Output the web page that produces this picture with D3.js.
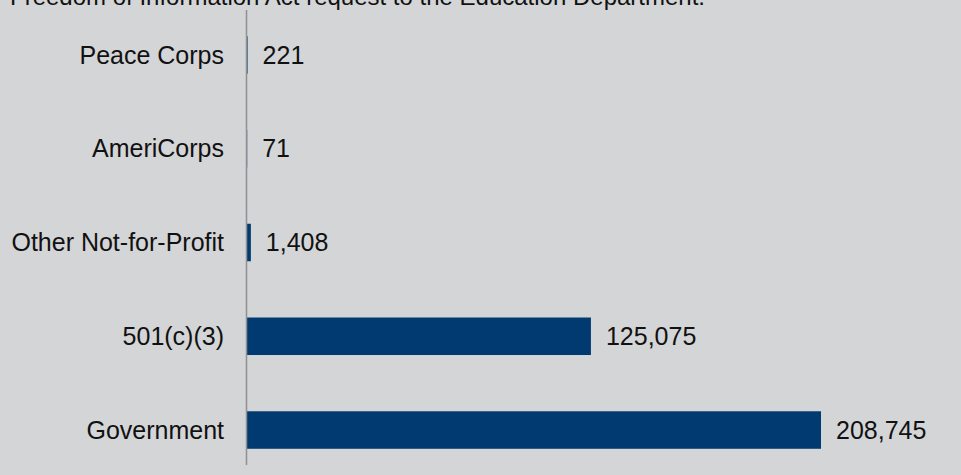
<!DOCTYPE html>
<html><head><meta charset="utf-8">
<script src="https://cdn.jsdelivr.net/npm/d3@7"></script>
<style>
html,body{margin:0;padding:0;background:#d4d5d7;}
svg{display:block;}
</style></head>
<body>
<script>
const categories = ["Peace Corps", "AmeriCorps", "Other Not-for-Profit", "501(c)(3)", "Government"];
const values = [221, 71, 1408, 125075, 208745];
const titleText = "Freedom of Information Act request to the Education Department.";

const W = 961, H = 475;
const FONT = "Liberation Sans, Arial, Helvetica, sans-serif";
const svg = d3.select("body").append("svg").attr("width", W).attr("height", H);
svg.append("rect").attr("width", W).attr("height", H).attr("fill", "#d4d5d7");

const x = d3.scaleLinear().domain([0, 208745]).range([247, 821]);
const y = d3.scaleBand().domain(categories).range([8.1, 476.9]).paddingInner(0.6).paddingOuter(0.3);

svg.append("text").attr("x", 10).attr("y", 5).attr("font-family", FONT)
  .attr("font-size", 24).attr("fill", "#111").text(titleText);

svg.selectAll("rect.bar").data(categories).enter().append("rect").attr("class", "bar")
  .attr("x", x(0)).attr("y", d => y(d)).attr("height", y.bandwidth())
  .attr("width", (d, i) => x(values[i]) - x(0)).attr("fill", "#003a70");

svg.append("line").attr("x1", 246.5).attr("x2", 246.5).attr("y1", 10).attr("y2", 465)
  .attr("stroke", "#8f9092").attr("stroke-width", 1.5);

svg.selectAll("text.cat").data(categories).enter().append("text").attr("class", "cat")
  .attr("x", 224).attr("y", d => y(d) + y.bandwidth() / 2).attr("dy", "0.35em")
  .attr("text-anchor", "end").attr("font-family", FONT)
  .attr("font-size", 25).attr("fill", "#111").text(d => d);

const fmt = d3.format(",");
svg.selectAll("text.val").data(categories).enter().append("text").attr("class", "val")
  .attr("x", (d, i) => x(values[i]) + 15).attr("y", d => y(d) + y.bandwidth() / 2).attr("dy", "0.35em")
  .attr("font-family", FONT)
  .attr("font-size", 25).attr("fill", "#111").text((d, i) => fmt(values[i]));
</script>
</body></html>
